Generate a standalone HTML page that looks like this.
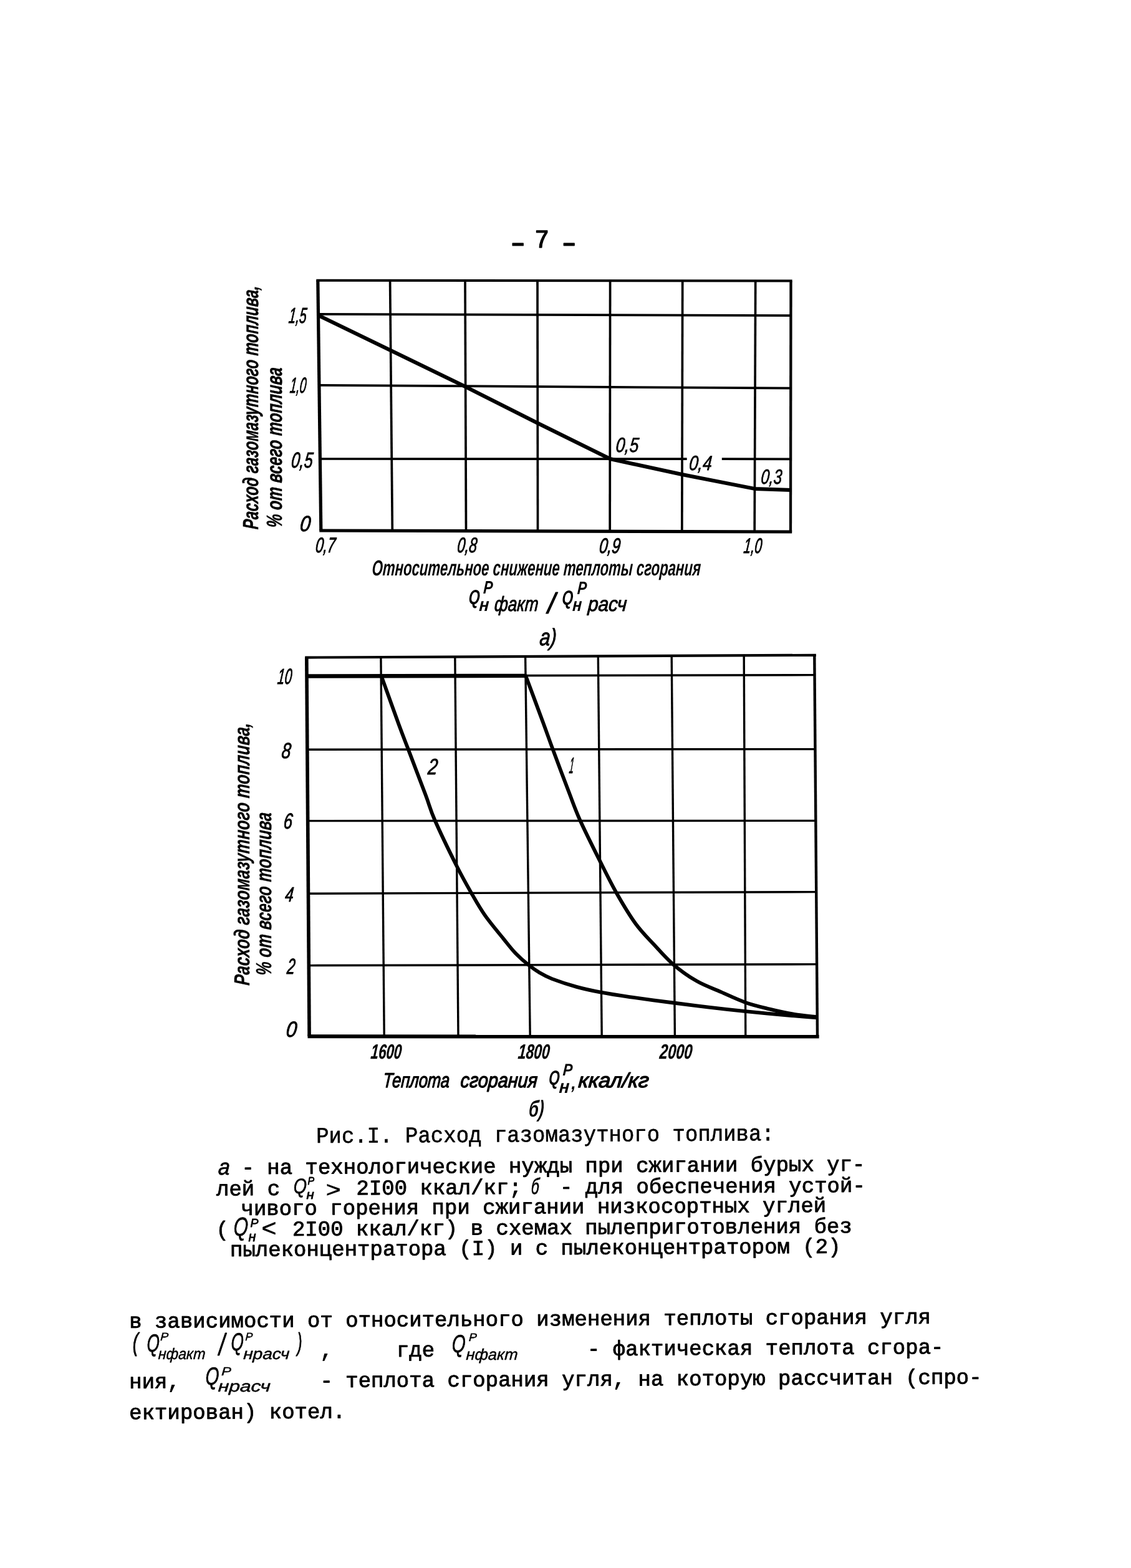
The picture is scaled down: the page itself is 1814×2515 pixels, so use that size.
<!DOCTYPE html>
<html lang="ru">
<head>
<meta charset="utf-8">
<title>Рис.I. Расход газомазутного топлива</title>
<style>
html,body{margin:0;padding:0;background:#fff;}
body{width:1814px;height:2515px;overflow:hidden;}
svg{display:block;}
svg line, svg path{stroke:#000;}
svg text{fill:#000;white-space:pre;}
</style>
</head>
<body>
<svg width="1814" height="2515" viewBox="0 0 1814 2515">
<rect x="0" y="0" width="1814" height="2515" fill="#fff"/>
<text font-family='"Liberation Mono", "DejaVu Sans Mono", monospace' font-size="34" font-weight="bold" stroke="#000" stroke-width="1.0" stroke-linejoin="round" paint-order="stroke" transform="translate(812.95,400.50) scale(1.7353,1.0)">-</text>
<text font-family='"Liberation Mono", "DejaVu Sans Mono", monospace' font-size="40" stroke="#000" stroke-width="1.4" stroke-linejoin="round" paint-order="stroke" transform="translate(857.58,397.00) scale(0.9728,1.0)">7</text>
<text font-family='"Liberation Mono", "DejaVu Sans Mono", monospace' font-size="34" font-weight="bold" stroke="#000" stroke-width="1.0" stroke-linejoin="round" paint-order="stroke" transform="translate(895.25,400.50) scale(1.7157,1.0)">-</text>
<g id="chart1">
<line x1="509.8" y1="449.7" x2="514.8" y2="851.0" stroke-width="5.2"/>
<line x1="625.6" y1="449.9" x2="629.3" y2="851.4" stroke-width="3.7"/>
<line x1="746" y1="450.0" x2="747.5" y2="851.7" stroke-width="3.7"/>
<line x1="862" y1="450.2" x2="862.5" y2="852.1" stroke-width="3.7"/>
<line x1="978.6" y1="450.4" x2="978.2" y2="852.5" stroke-width="3.7"/>
<line x1="1094.7" y1="450.5" x2="1093.8" y2="852.8" stroke-width="3.7"/>
<line x1="1211.7" y1="450.7" x2="1210.2" y2="853.2" stroke-width="3.7"/>
<line x1="1268.5" y1="450.8" x2="1268" y2="853.4" stroke-width="4.3"/>
<line x1="507.3" y1="449.7" x2="1270.6" y2="450.4" stroke-width="4.0"/>
<line x1="510" y1="503.9" x2="1268.6" y2="506.1" stroke-width="3.7"/>
<line x1="512" y1="617.9" x2="1268" y2="622.6" stroke-width="3.7"/>
<line x1="513.5" y1="736.0" x2="1101.7" y2="736.2" stroke-width="3.7"/>
<line x1="1157.8" y1="736.2" x2="1268" y2="736.4" stroke-width="3.7"/>
<line x1="512.3" y1="851.0" x2="1270.2" y2="853.0" stroke-width="5.2"/>
<path d="M510.0,505.5 L626.0,561.8 L746.0,620.0 L862.0,678.5 L978.5,736.0 L1093.8,761.0 L1210.2,783.9 L1268.5,786.0" stroke-width="6" fill="none" stroke-linejoin="round" />
<text font-family='"Liberation Sans", "DejaVu Sans", sans-serif' font-size="35" font-style="italic" stroke="#000" stroke-width="1.0" stroke-linejoin="round" paint-order="stroke" transform="translate(462.19,518.30) skewX(-6) scale(0.5877,1.0)">1,5</text>
<text font-family='"Liberation Sans", "DejaVu Sans", sans-serif' font-size="35" font-style="italic" stroke="#000" stroke-width="1.0" stroke-linejoin="round" paint-order="stroke" transform="translate(464.23,630.00) skewX(-6) scale(0.5347,1.0)">1,0</text>
<text font-family='"Liberation Sans", "DejaVu Sans", sans-serif' font-size="35" font-style="italic" stroke="#000" stroke-width="1.0" stroke-linejoin="round" paint-order="stroke" transform="translate(466.31,749.80) skewX(-6) scale(0.7053,1.0)">0,5</text>
<text font-family='"Liberation Sans", "DejaVu Sans", sans-serif' font-size="35" font-style="italic" stroke="#000" stroke-width="1.0" stroke-linejoin="round" paint-order="stroke" transform="translate(480.29,852.40) skewX(-6) scale(0.8641,1.0)">0</text>
<text font-family='"Liberation Sans", "DejaVu Sans", sans-serif' font-size="34" font-style="italic" stroke="#000" stroke-width="1.0" stroke-linejoin="round" paint-order="stroke" transform="translate(505.29,885.50) skewX(-6) scale(0.6715,1.0)">0,7</text>
<text font-family='"Liberation Sans", "DejaVu Sans", sans-serif' font-size="34" font-style="italic" stroke="#000" stroke-width="1.0" stroke-linejoin="round" paint-order="stroke" transform="translate(732.59,886.00) skewX(-6) scale(0.6690,1.0)">0,8</text>
<text font-family='"Liberation Sans", "DejaVu Sans", sans-serif' font-size="34" font-style="italic" stroke="#000" stroke-width="1.0" stroke-linejoin="round" paint-order="stroke" transform="translate(960.23,886.50) skewX(-6) scale(0.7165,1.0)">0,9</text>
<text font-family='"Liberation Sans", "DejaVu Sans", sans-serif' font-size="34" font-style="italic" stroke="#000" stroke-width="1.0" stroke-linejoin="round" paint-order="stroke" transform="translate(1192.08,887.00) skewX(-6) scale(0.6145,1.0)">1,0</text>
<text font-family='"Liberation Sans", "DejaVu Sans", sans-serif' font-size="33" font-style="italic" stroke="#000" stroke-width="0.8" stroke-linejoin="round" paint-order="stroke" transform="translate(986.95,724.70) skewX(-5) scale(0.7985,1.0)">0,5</text>
<text font-family='"Liberation Sans", "DejaVu Sans", sans-serif' font-size="33" font-style="italic" stroke="#000" stroke-width="0.8" stroke-linejoin="round" paint-order="stroke" transform="translate(1104.45,753.80) skewX(-5) scale(0.7975,1.0)">0,4</text>
<text font-family='"Liberation Sans", "DejaVu Sans", sans-serif' font-size="33" font-style="italic" stroke="#000" stroke-width="0.8" stroke-linejoin="round" paint-order="stroke" transform="translate(1219.83,775.60) skewX(-5) scale(0.7323,1.0)">0,3</text>
<text font-family='"Liberation Sans", "DejaVu Sans", sans-serif' font-size="35" font-weight="bold" font-style="italic" stroke="#000" stroke-width="0.5" stroke-linejoin="round" paint-order="stroke" transform="translate(413.70,849.49) rotate(-90) skewX(-4) scale(0.6738,1.0)">Расход газомазутного топлива,</text>
<text font-family='"Liberation Sans", "DejaVu Sans", sans-serif' font-size="35" font-weight="bold" font-style="italic" stroke="#000" stroke-width="0.5" stroke-linejoin="round" paint-order="stroke" transform="translate(451.70,846.97) rotate(-90) skewX(-4) scale(0.6990,1.0)">% от всего топлива</text>
<text font-family='"Liberation Sans", "DejaVu Sans", sans-serif' font-size="35" font-weight="bold" font-style="italic" transform="translate(596.11,923.00) skewX(-4) scale(0.6331,1.0)">Относительное снижение теплоты сгорания</text>
<text font-family='"Liberation Sans", "DejaVu Sans", sans-serif' font-size="33" font-weight="bold" font-style="italic" transform="translate(751.07,969.00) skewX(-4) scale(0.7009,1.0)">Q</text>
<text font-family='"Liberation Sans", "DejaVu Sans", sans-serif' font-size="29" font-weight="bold" font-style="italic" transform="translate(774.77,952.20) skewX(-4) scale(0.7785,1.0)">P</text>
<text font-family='"Liberation Sans", "DejaVu Sans", sans-serif' font-size="30" font-weight="bold" font-style="italic" transform="translate(767.94,980.40) skewX(-4) scale(0.8717,1.0)">н</text>
<text font-family='"Liberation Sans", "DejaVu Sans", sans-serif' font-size="33" font-style="italic" stroke="#000" stroke-width="1.0" stroke-linejoin="round" paint-order="stroke" transform="translate(792.62,980.20) skewX(-4) scale(0.7856,1.0)">факт</text>
<text font-family='"Liberation Sans", "DejaVu Sans", sans-serif' font-size="46" font-style="italic" stroke="#000" stroke-width="1.0" stroke-linejoin="round" paint-order="stroke" transform="translate(878.23,984.00) scale(0.9909,1.0)">/</text>
<text font-family='"Liberation Sans", "DejaVu Sans", sans-serif' font-size="33" font-weight="bold" font-style="italic" transform="translate(900.79,969.50) skewX(-4) scale(0.6926,1.0)">Q</text>
<text font-family='"Liberation Sans", "DejaVu Sans", sans-serif' font-size="29" font-weight="bold" font-style="italic" transform="translate(925.47,953.00) skewX(-4) scale(0.7785,1.0)">P</text>
<text font-family='"Liberation Sans", "DejaVu Sans", sans-serif' font-size="30" font-weight="bold" font-style="italic" transform="translate(917.75,980.40) skewX(-4) scale(0.8200,1.0)">н</text>
<text font-family='"Liberation Sans", "DejaVu Sans", sans-serif' font-size="33" font-style="italic" stroke="#000" stroke-width="1.0" stroke-linejoin="round" paint-order="stroke" transform="translate(942.39,980.20) skewX(-4) scale(0.9016,1.0)">расч</text>
<text font-family='"Liberation Sans", "DejaVu Sans", sans-serif' font-size="38" font-style="italic" stroke="#000" stroke-width="1.0" stroke-linejoin="round" paint-order="stroke" transform="translate(864.69,1035.20) skewX(-5) scale(0.7988,1.0)">а)</text>
</g>
<g id="chart2">
<line x1="491.8" y1="1054.6" x2="496.1" y2="1662.3" stroke-width="5.6"/>
<line x1="610.9" y1="1054.1" x2="616.2" y2="1662.3" stroke-width="3.4"/>
<line x1="729.8" y1="1053.5" x2="735.0" y2="1662.4" stroke-width="3.4"/>
<line x1="842.6" y1="1053.0" x2="850.2" y2="1662.4" stroke-width="3.4"/>
<line x1="959.3" y1="1052.4" x2="965.2" y2="1662.5" stroke-width="3.4"/>
<line x1="1077.2" y1="1051.9" x2="1082.4" y2="1662.5" stroke-width="3.4"/>
<line x1="1193.2" y1="1051.3" x2="1195.8" y2="1662.6" stroke-width="3.4"/>
<line x1="1306.3" y1="1050.8" x2="1311.0" y2="1662.6" stroke-width="4.4"/>
<line x1="489.2" y1="1054.6" x2="1308.9" y2="1050.8" stroke-width="4.2"/>
<line x1="492.0" y1="1084.4" x2="1306.5" y2="1082.6" stroke-width="3.4"/>
<line x1="492.8" y1="1202.2" x2="1307.4" y2="1201.6" stroke-width="3.4"/>
<line x1="493.7" y1="1316.6" x2="1308.3" y2="1316.4" stroke-width="3.4"/>
<line x1="494.5" y1="1433.3" x2="1309.2" y2="1430.6" stroke-width="3.4"/>
<line x1="495.3" y1="1548.6" x2="1310.1" y2="1546.6" stroke-width="3.4"/>
<line x1="493.5" y1="1662.3" x2="1313.6" y2="1662.6" stroke-width="6"/>
<line x1="491.5" y1="1084.5" x2="844.5" y2="1083.9" stroke-width="6.4"/>
<path d="M843.8,1085.4 C848.3,1097.6 863.7,1139.0 870.9,1158.5 C878.1,1178.0 879.9,1183.7 886.8,1202.2 C893.7,1220.8 904.9,1250.8 912.2,1269.8 C919.5,1288.8 922.2,1297.6 930.5,1316.0 C938.8,1334.4 952.1,1360.9 961.9,1380.4 C971.7,1399.9 979.7,1416.3 989.3,1433.2 C998.9,1450.1 1009.7,1468.1 1019.6,1481.7 C1029.5,1495.3 1038.8,1504.1 1048.9,1515.0 C1059.0,1525.9 1068.8,1537.4 1080.2,1547.2 C1091.6,1557.0 1104.7,1566.3 1117.4,1573.6 C1130.1,1580.9 1143.5,1585.5 1156.5,1591.2 C1169.5,1596.9 1182.6,1603.3 1195.6,1607.9 C1208.6,1612.5 1221.7,1615.4 1234.7,1618.6 C1247.7,1621.8 1261.1,1624.7 1273.8,1626.8 C1286.5,1628.9 1304.8,1630.5 1311.0,1631.3" stroke-width="5.8" fill="none" stroke-linejoin="round" />
<path d="M611.9,1085.1 C616.5,1097.9 632.6,1142.7 639.7,1162.2 C646.9,1181.7 647.6,1183.1 654.8,1201.9 C661.9,1220.7 675.5,1256.2 682.6,1275.0 C689.7,1293.8 689.0,1296.1 697.2,1315.0 C705.5,1333.9 722.2,1368.5 732.1,1388.2 C742.0,1407.9 748.9,1419.8 756.5,1433.2 C764.1,1446.6 769.5,1456.3 778.0,1468.4 C786.5,1480.5 799.2,1495.5 807.4,1505.6 C815.5,1515.7 820.4,1522.2 826.9,1529.0 C833.4,1535.8 840.0,1541.5 846.5,1546.7 C853.0,1551.9 859.5,1556.5 866.0,1560.4 C872.5,1564.3 875.8,1566.3 885.6,1570.1 C895.4,1573.8 911.7,1579.3 924.7,1582.9 C937.7,1586.5 949.6,1589.0 963.8,1591.7 C978.0,1594.4 990.6,1596.3 1010.0,1599.1 C1029.4,1601.9 1059.0,1605.7 1080.2,1608.5 C1101.4,1611.3 1117.7,1613.4 1136.9,1615.7 C1156.1,1618.0 1172.8,1619.9 1195.6,1622.2 C1218.4,1624.5 1254.6,1627.7 1273.8,1629.4 C1293.0,1631.1 1304.8,1631.8 1311.0,1632.3" stroke-width="5.8" fill="none" stroke-linejoin="round" />
<text font-family='"Liberation Sans", "DejaVu Sans", sans-serif' font-size="35" font-style="italic" stroke="#000" stroke-width="1.0" stroke-linejoin="round" paint-order="stroke" transform="translate(444.29,1097.00) skewX(-6) scale(0.5846,1.0)">10</text>
<text font-family='"Liberation Sans", "DejaVu Sans", sans-serif' font-size="35" font-style="italic" stroke="#000" stroke-width="1.0" stroke-linejoin="round" paint-order="stroke" transform="translate(450.77,1216.00) skewX(-6) scale(0.7579,1.0)">8</text>
<text font-family='"Liberation Sans", "DejaVu Sans", sans-serif' font-size="35" font-style="italic" stroke="#000" stroke-width="1.0" stroke-linejoin="round" paint-order="stroke" transform="translate(454.03,1329.10) skewX(-6) scale(0.7241,1.0)">6</text>
<text font-family='"Liberation Sans", "DejaVu Sans", sans-serif' font-size="33" font-style="italic" stroke="#000" stroke-width="1.0" stroke-linejoin="round" paint-order="stroke" transform="translate(456.60,1445.60) skewX(-6) scale(0.7268,1.0)">4</text>
<text font-family='"Liberation Sans", "DejaVu Sans", sans-serif' font-size="35" font-style="italic" stroke="#000" stroke-width="1.0" stroke-linejoin="round" paint-order="stroke" transform="translate(459.53,1562.00) skewX(-6) scale(0.6594,1.0)">2</text>
<text font-family='"Liberation Sans", "DejaVu Sans", sans-serif' font-size="35" font-style="italic" stroke="#000" stroke-width="1.0" stroke-linejoin="round" paint-order="stroke" transform="translate(458.07,1662.50) skewX(-6) scale(0.8753,1.0)">0</text>
<text font-family='"Liberation Sans", "DejaVu Sans", sans-serif' font-size="36" font-style="italic" stroke="#000" stroke-width="1.0" stroke-linejoin="round" paint-order="stroke" transform="translate(685.58,1242.40) skewX(-6) scale(0.7664,1.0)">2</text>
<text font-family='"Liberation Sans", "DejaVu Sans", sans-serif' font-size="36" font-style="italic" stroke="#000" stroke-width="1.0" stroke-linejoin="round" paint-order="stroke" transform="translate(912.24,1239.60) skewX(-6) scale(0.3556,1.0)">1</text>
<text font-family='"Liberation Sans", "DejaVu Sans", sans-serif' font-size="33" font-weight="bold" font-style="italic" stroke="#000" stroke-width="0.3" stroke-linejoin="round" paint-order="stroke" transform="translate(594.03,1698.10) skewX(-5) scale(0.6734,1.0)">1600</text>
<text font-family='"Liberation Sans", "DejaVu Sans", sans-serif' font-size="33" font-weight="bold" font-style="italic" stroke="#000" stroke-width="0.3" stroke-linejoin="round" paint-order="stroke" transform="translate(830.22,1698.10) skewX(-5) scale(0.6926,1.0)">1800</text>
<text font-family='"Liberation Sans", "DejaVu Sans", sans-serif' font-size="33" font-weight="bold" font-style="italic" stroke="#000" stroke-width="0.3" stroke-linejoin="round" paint-order="stroke" transform="translate(1057.32,1698.10) skewX(-5) scale(0.7131,1.0)">2000</text>
<text font-family='"Liberation Sans", "DejaVu Sans", sans-serif' font-size="35" font-weight="bold" font-style="italic" stroke="#000" stroke-width="0.3" stroke-linejoin="round" paint-order="stroke" transform="translate(400.00,1580.90) rotate(-90) skewX(-4) scale(0.7262,1.0)">Расход газомазутного топлива,</text>
<text font-family='"Liberation Sans", "DejaVu Sans", sans-serif' font-size="35" font-weight="bold" font-style="italic" stroke="#000" stroke-width="0.3" stroke-linejoin="round" paint-order="stroke" transform="translate(434.50,1565.19) rotate(-90) skewX(-4) scale(0.7113,1.0)">% от всего топлива</text>
<text font-family='"Liberation Sans", "DejaVu Sans", sans-serif' font-size="33" font-style="italic" stroke="#000" stroke-width="1.3" stroke-linejoin="round" paint-order="stroke" transform="translate(613.70,1743.60) skewX(-4) scale(0.7747,1.0)">Теплота</text>
<text font-family='"Liberation Sans", "DejaVu Sans", sans-serif' font-size="33" font-style="italic" stroke="#000" stroke-width="1.3" stroke-linejoin="round" paint-order="stroke" transform="translate(738.09,1743.60) skewX(-4) scale(0.8709,1.0)">сгорания</text>
<text font-family='"Liberation Sans", "DejaVu Sans", sans-serif' font-size="33" font-weight="bold" font-style="italic" transform="translate(879.60,1740.30) skewX(-4) scale(0.6801,1.0)">Q</text>
<text font-family='"Liberation Sans", "DejaVu Sans", sans-serif' font-size="27" font-weight="bold" font-style="italic" transform="translate(902.17,1725.00) skewX(-4) scale(0.8584,1.0)">P</text>
<text font-family='"Liberation Sans", "DejaVu Sans", sans-serif' font-size="30" font-weight="bold" font-style="italic" transform="translate(896.23,1753.40) skewX(-4) scale(0.9062,1.0)">н</text>
<text font-family='"Liberation Sans", "DejaVu Sans", sans-serif' font-size="30" font-weight="bold" font-style="italic" transform="translate(916.27,1746.50) scale(0.9000,1.0)">,</text>
<text font-family='"Liberation Sans", "DejaVu Sans", sans-serif' font-size="33" font-style="italic" stroke="#000" stroke-width="1.3" stroke-linejoin="round" paint-order="stroke" transform="translate(927.01,1743.60) skewX(-4) scale(1.0398,1.0)">ккал/кг</text>
<text font-family='"Liberation Sans", "DejaVu Sans", sans-serif' font-size="37" font-weight="bold" font-style="italic" transform="translate(847.18,1790.60) skewX(-5) scale(0.6871,1.0)">б)</text>
</g>
<text font-family='"Liberation Mono", "DejaVu Sans Mono", monospace' font-size="34" stroke="#000" stroke-width="0.6" stroke-linejoin="round" transform="translate(507.20,1833.10) rotate(-0.31) scale(1.0005,1.06)" xml:space="preserve">Рис.I. Расход газомазутного топлива:</text>
<text font-family='"Liberation Sans", "DejaVu Sans", sans-serif' font-size="36" font-style="italic" stroke="#000" stroke-width="0.8" stroke-linejoin="round" paint-order="stroke" transform="translate(349.44,1883.70) skewX(-4) scale(0.9227,1.0)">а</text>
<text font-family='"Liberation Mono", "DejaVu Sans Mono", monospace' font-size="34" stroke="#000" stroke-width="0.9" stroke-linejoin="round" transform="translate(387.50,1883.30) rotate(-0.31) scale(1.0005,1.0)" xml:space="preserve">- на технологические нужды при сжигании бурых уг-</text>
<text font-family='"Liberation Mono", "DejaVu Sans Mono", monospace' font-size="34" stroke="#000" stroke-width="0.9" stroke-linejoin="round" transform="translate(347.00,1917.50) rotate(-0.31) scale(1.0005,1.0)" xml:space="preserve">лей с      2I00 ккал/кг;   - для обеспечения устой-</text>
<text font-family='"Liberation Sans", "DejaVu Sans", sans-serif' font-size="34" font-style="italic" stroke="#000" stroke-width="0.7" stroke-linejoin="round" paint-order="stroke" transform="translate(470.17,1914.40) skewX(-3) scale(0.7975,1.0)">Q</text>
<text font-family='"Liberation Sans", "DejaVu Sans", sans-serif' font-size="17" font-style="italic" stroke="#000" stroke-width="0.8" stroke-linejoin="round" paint-order="stroke" transform="translate(493.42,1899.90) scale(0.9375,1.0)">P</text>
<text font-family='"Liberation Sans", "DejaVu Sans", sans-serif' font-size="20" font-style="italic" stroke="#000" stroke-width="0.8" stroke-linejoin="round" paint-order="stroke" transform="translate(491.38,1922.60) scale(1.1132,1.0)">н</text>
<text font-family='"Liberation Sans", "DejaVu Sans", sans-serif' font-size="36" font-style="italic" stroke="#000" stroke-width="0.6" stroke-linejoin="round" paint-order="stroke" transform="translate(522.25,1919.50) scale(1.1338,1.0)">&gt;</text>
<text font-family='"Liberation Sans", "DejaVu Sans", sans-serif' font-size="36" font-style="italic" stroke="#000" stroke-width="0.8" stroke-linejoin="round" paint-order="stroke" transform="translate(851.26,1914.50) skewX(-4) scale(0.6332,1.0)">б</text>
<text font-family='"Liberation Mono", "DejaVu Sans Mono", monospace' font-size="34" stroke="#000" stroke-width="0.9" stroke-linejoin="round" transform="translate(386.50,1949.00) rotate(-0.31) scale(1.0005,1.0)" xml:space="preserve">чивого горения при сжигании низкосортных углей</text>
<text font-family='"Liberation Mono", "DejaVu Sans Mono", monospace' font-size="34" stroke="#000" stroke-width="0.9" stroke-linejoin="round" transform="translate(346.50,1982.70) rotate(-0.31) scale(1.0005,1.0)" xml:space="preserve">(     2I00 ккал/кг) в схемах пылеприготовления без</text>
<text font-family='"Liberation Sans", "DejaVu Sans", sans-serif' font-size="42" font-style="italic" stroke="#000" stroke-width="0.7" stroke-linejoin="round" paint-order="stroke" transform="translate(373.95,1981.60) skewX(-3) scale(0.7129,1.0)">Q</text>
<text font-family='"Liberation Sans", "DejaVu Sans", sans-serif' font-size="19" font-style="italic" stroke="#000" stroke-width="0.8" stroke-linejoin="round" paint-order="stroke" transform="translate(401.62,1968.00) scale(1.0197,1.0)">P</text>
<text font-family='"Liberation Sans", "DejaVu Sans", sans-serif' font-size="22" font-style="italic" stroke="#000" stroke-width="0.8" stroke-linejoin="round" paint-order="stroke" transform="translate(398.38,1990.80) scale(0.9949,1.0)">н</text>
<text font-family='"Liberation Sans", "DejaVu Sans", sans-serif' font-size="38" font-style="italic" stroke="#000" stroke-width="0.6" stroke-linejoin="round" paint-order="stroke" transform="translate(418.96,1982.50) scale(1.0687,1.0)">&lt;</text>
<text font-family='"Liberation Mono", "DejaVu Sans Mono", monospace' font-size="34" stroke="#000" stroke-width="0.9" stroke-linejoin="round" transform="translate(369.00,2015.00) rotate(-0.31) scale(1.0005,1.0)" xml:space="preserve">пылеконцентратора (I) и с пылеконцентратором (2)</text>
<text font-family='"Liberation Mono", "DejaVu Sans Mono", monospace' font-size="34" stroke="#000" stroke-width="0.9" stroke-linejoin="round" transform="translate(207.30,2129.80) rotate(-0.31) scale(1.0005,1.0)" xml:space="preserve">в зависимости от относительного изменения теплоты сгорания угля</text>
<text font-family='"Liberation Mono", "DejaVu Sans Mono", monospace' font-size="34" stroke="#000" stroke-width="0.9" stroke-linejoin="round" transform="translate(513.45,2176.54) rotate(-0.31) scale(1.0005,1.0)" xml:space="preserve">,     где            - фактическая теплота сгора-</text>
<text font-family='"Liberation Sans", "DejaVu Sans", sans-serif' font-size="40" font-style="italic" stroke="#000" stroke-width="0.9" stroke-linejoin="round" paint-order="stroke" transform="translate(212.64,2167.00) scale(0.6908,1.0)">(</text>
<text font-family='"Liberation Sans", "DejaVu Sans", sans-serif' font-size="40" font-style="italic" stroke="#000" stroke-width="0.8" stroke-linejoin="round" paint-order="stroke" transform="translate(234.97,2167.50) skewX(-3) scale(0.6455,1.0)">Q</text>
<text font-family='"Liberation Sans", "DejaVu Sans", sans-serif' font-size="18" font-style="italic" stroke="#000" stroke-width="0.5" stroke-linejoin="round" paint-order="stroke" transform="translate(257.07,2150.00) skewX(-3) scale(1.0720,1.0)">P</text>
<text font-family='"Liberation Sans", "DejaVu Sans", sans-serif' font-size="25" font-style="italic" stroke="#000" stroke-width="0.5" stroke-linejoin="round" paint-order="stroke" transform="translate(253.42,2180.20) skewX(-3) scale(0.9303,1.0)">нфакт</text>
<text font-family='"Liberation Sans", "DejaVu Sans", sans-serif' font-size="50" font-style="italic" stroke="#000" stroke-width="0.9" stroke-linejoin="round" paint-order="stroke" transform="translate(351.07,2174.00) scale(0.7070,1.0)">/</text>
<text font-family='"Liberation Sans", "DejaVu Sans", sans-serif' font-size="40" font-style="italic" stroke="#000" stroke-width="0.8" stroke-linejoin="round" paint-order="stroke" transform="translate(370.07,2166.00) skewX(-3) scale(0.6420,1.0)">Q</text>
<text font-family='"Liberation Sans", "DejaVu Sans", sans-serif' font-size="18" font-style="italic" stroke="#000" stroke-width="0.5" stroke-linejoin="round" paint-order="stroke" transform="translate(393.22,2150.00) skewX(-3) scale(0.9765,1.0)">P</text>
<text font-family='"Liberation Sans", "DejaVu Sans", sans-serif' font-size="25" font-style="italic" stroke="#000" stroke-width="0.5" stroke-linejoin="round" paint-order="stroke" transform="translate(389.97,2180.00) skewX(-3) scale(1.1192,1.0)">нрасч</text>
<text font-family='"Liberation Sans", "DejaVu Sans", sans-serif' font-size="40" font-style="italic" stroke="#000" stroke-width="0.9" stroke-linejoin="round" paint-order="stroke" transform="translate(476.69,2167.00) scale(0.5855,1.0)">)</text>
<text font-family='"Liberation Sans", "DejaVu Sans", sans-serif' font-size="40" font-style="italic" stroke="#000" stroke-width="0.8" stroke-linejoin="round" paint-order="stroke" transform="translate(724.19,2168.50) skewX(-3) scale(0.6948,1.0)">Q</text>
<text font-family='"Liberation Sans", "DejaVu Sans", sans-serif' font-size="18" font-style="italic" stroke="#000" stroke-width="0.5" stroke-linejoin="round" paint-order="stroke" transform="translate(751.78,2151.00) skewX(-3) scale(1.0633,1.0)">P</text>
<text font-family='"Liberation Sans", "DejaVu Sans", sans-serif' font-size="25" font-style="italic" stroke="#000" stroke-width="0.5" stroke-linejoin="round" paint-order="stroke" transform="translate(747.20,2181.00) skewX(-3) scale(1.0189,1.0)">нфакт</text>
<text font-family='"Liberation Mono", "DejaVu Sans Mono", monospace' font-size="34" stroke="#000" stroke-width="0.9" stroke-linejoin="round" transform="translate(207.30,2226.80) rotate(-0.31) scale(1.0005,1.0)" xml:space="preserve">ния,           - теплота сгорания угля, на которую рассчитан (спро-</text>
<text font-family='"Liberation Sans", "DejaVu Sans", sans-serif' font-size="40" font-style="italic" stroke="#000" stroke-width="0.8" stroke-linejoin="round" paint-order="stroke" transform="translate(329.09,2220.50) skewX(-3) scale(0.6948,1.0)">Q</text>
<text font-family='"Liberation Sans", "DejaVu Sans", sans-serif' font-size="19" font-style="italic" stroke="#000" stroke-width="0.5" stroke-linejoin="round" paint-order="stroke" transform="translate(355.06,2206.00) skewX(-3) scale(1.2182,1.0)">P</text>
<text font-family='"Liberation Sans", "DejaVu Sans", sans-serif' font-size="25" font-style="italic" stroke="#000" stroke-width="0.5" stroke-linejoin="round" paint-order="stroke" transform="translate(349.43,2231.50) skewX(-3) scale(1.2719,1.0)">нрасч</text>
<text font-family='"Liberation Mono", "DejaVu Sans Mono", monospace' font-size="34" stroke="#000" stroke-width="0.9" stroke-linejoin="round" transform="translate(207.30,2276.30) rotate(-0.31) scale(1.0005,1.0)" xml:space="preserve">ектирован) котел.</text>
</svg>
</body>
</html>
